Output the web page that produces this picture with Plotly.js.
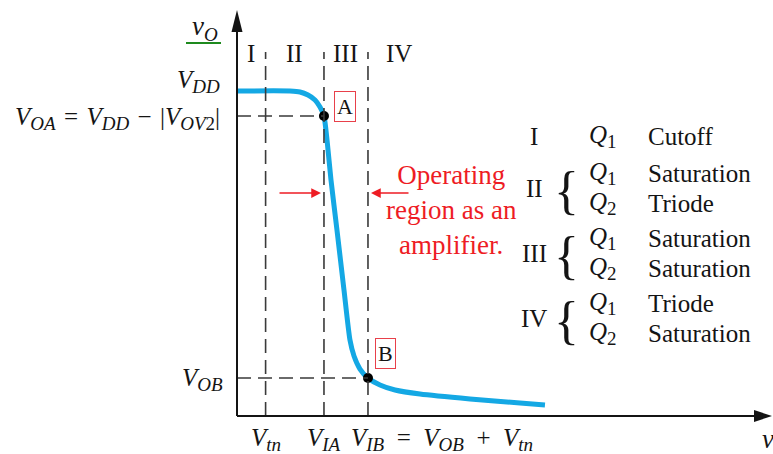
<!DOCTYPE html>
<html>
<head>
<meta charset="utf-8">
<script src="https://cdn.plot.ly/plotly-3.0.1.min.js"></script>
<style>
  html, body { margin: 0; padding: 0; background: #fff; overflow: hidden; }
  #chart { width: 773px; height: 454px; }
</style>
</head>
<body>
<div id="chart"></div>
<script>
// Voltage transfer characteristic v_O(v_I) of the CMOS common-source amplifier

// characteristic voltages (volts)
const VDD = 5.0;
const VOA = 4.615;
const VOB = 0.585;
const Vtn = 0.44;
const VIA = 1.338;
const VIB = 2.015;

// transfer curve samples
const vI = [0, 0.815, 0.969, 1.092, 1.2, 1.277, 1.338, 1.385, 1.446, 1.538, 1.646,
            1.738, 1.8, 1.892, 2.015, 2.2, 2.431, 2.815, 3.585, 4.354, 4.738];
const vO = [5.0, 5.0, 4.985, 4.938, 4.862, 4.754, 4.615, 4.246, 3.631, 2.862, 1.938,
            1.169, 0.923, 0.723, 0.585, 0.477, 0.4, 0.338, 0.262, 0.2, 0.169];

// operating points
const pointNames = ['A', 'B'];
const pointVI = [VIA, VIB];
const pointVO = [VOA, VOB];

// regions of operation
const regions = ['I', 'II', 'III', 'IV'];
const q1Mode = ['Cutoff', 'Saturation', 'Saturation', 'Triode'];
const q2Mode = [null, 'Triode', 'Saturation', 'Saturation'];

// ---- drawing scale: the page is the plotting area, origin placed inside it
const W = 773, H = 454;
const OX = 237, OY = 416;      // origin position on the page
const S = 65;                  // pixels per volt
const X = p => (p - OX) / S;   // page px -> volts
const Y = p => (OY - p) / S;

const SERIF = 'Liberation Serif, Times New Roman, serif';
const INK = '#141414';
const RED = '#ee1c24';
const BLUE = '#14a8e4';
const DASH = '14px,7px';

// math-style helpers
const sub = s => `<sub><span style="font-size:19px">${s}</span></sub>`;
const V = s => `<i>V${sub(s)}</i>`;
const op = (c, sp = '\u2002') => `${sp}${c}${sp}`;

const xTip = X(772), yTip = Y(10), dashTop = Y(52);

const shapes = [];
const dashed = { color: '#3a3a3a', width: 1.6, dash: DASH };
// vertical region boundaries
[Vtn, VIA, VIB].forEach(v => shapes.push({ type: 'line', xref: 'x', yref: 'y',
  x0: v, x1: v, y0: 0, y1: dashTop, line: dashed }));
// horizontal projections of A and B
shapes.push({ type: 'line', x0: 0, x1: VIA, y0: VOA, y1: VOA, line: dashed });
shapes.push({ type: 'line', x0: 0, x1: VIB, y0: VOB, y1: VOB, line: dashed });
// axes
shapes.push({ type: 'line', x0: 0, x1: 0, y0: 0, y1: yTip - 0.2, line: { color: INK, width: 2 } });
shapes.push({ type: 'line', x0: 0, x1: xTip - 0.2, y0: 0, y1: 0, line: { color: INK, width: 2 } });
// arrowheads
shapes.push({ type: 'path', xsizemode: 'pixel', ysizemode: 'pixel', xanchor: 0, yanchor: yTip,
  path: 'M0,0L-5.5,-22L5.5,-22Z', fillcolor: INK, line: { width: 0 } });
shapes.push({ type: 'path', xsizemode: 'pixel', ysizemode: 'pixel', xanchor: xTip, yanchor: 0,
  path: 'M0,0L-18,6L-18,-6Z', fillcolor: INK, line: { width: 0 } });
// green rule under the v_O label
shapes.push({ type: 'line', x0: X(186), x1: X(221), y0: Y(43), y1: Y(43),
  line: { color: '#1e8a1e', width: 2 } });

const ann = [];
const txt = (text, x, y, o = {}) => ann.push(Object.assign({
  text, x, y, xref: 'x', yref: 'y', showarrow: false,
  font: { family: SERIF, size: 25, color: INK }
}, o));

// axis titles
txt(`<i>v${sub('O')}</i>`, X(205), Y(28), { font: { family: SERIF, size: 27, color: INK } });
txt(`<i>v${sub('I')}</i>`, X(760), Y(441), { xanchor: 'left', font: { family: SERIF, size: 27, color: INK } });

// vertical axis marks
txt(V('DD'), 0, VDD, { xanchor: 'right', xshift: -15, yshift: 10 });
txt(V('OA') + op('=', '\u2004') + V('DD') + op('−', '\u2004') + `|<i>V</i>${sub('<i>OV</i>2')}|`, 0, VOA,
    { xanchor: 'right', xshift: -15, yshift: -2 });
txt(V('OB'), 0, VOB, { xanchor: 'right', xshift: -12, yshift: -2 });

// horizontal axis marks
txt(V('tn'), Vtn, 0, { yshift: -23 });
txt(V('IA'), VIA, 0, { yshift: -23 });
txt(V('IB') + op('=') + V('OB') + op('+') + V('tn'), VIB, 0,
    { xanchor: 'left', xshift: -19, yshift: -23 });

// region numerals above the plot
const bounds = [0, Vtn, VIA, VIB, VIB + 0.95];
regions.forEach((r, i) => txt(r, (bounds[i] + bounds[i + 1]) / 2, Y(53)));

// operating point tags
const tagOffset = [[21, 10], [18, 24]];
pointNames.forEach((n, i) => txt(n, pointVI[i], pointVO[i], {
  xshift: tagOffset[i][0], yshift: tagOffset[i][1],
  font: { family: SERIF, size: 22, color: INK },
  bordercolor: '#e8404a', borderwidth: 1, borderpad: 2, bgcolor: '#fff'
}));

// amplifier range note and arrows
txt('Operating<br>region as an<br>amplifier.', X(451), Y(210),
    { font: { family: SERIF, size: 27, color: RED } });
const arrowY = Y(193);
[[VIA, X(278)], [VIB, X(410)]].forEach(([tip, tail]) => ann.push({
  x: tip, y: arrowY, ax: tail, ay: arrowY, xref: 'x', yref: 'y', axref: 'x', ayref: 'y',
  text: '', showarrow: true, arrowhead: 2, arrowsize: 1.3, arrowwidth: 1.5,
  arrowcolor: RED, standoff: 3
}));

// table of device states per region
const rowY = [136, 188, 253, 318];
const Q = n => `<i>Q</i>${sub(n)}`;
regions.forEach((r, i) => {
  const yc = rowY[i];
  txt(r, X(534), Y(yc));
  if (q2Mode[i] === null) {
    txt(Q('1'), X(587), Y(yc), { xanchor: 'left' });
    txt(q1Mode[i], X(646), Y(yc), { xanchor: 'left' });
  } else {
    txt('{', X(566), Y(yc + 2), { font: { family: SERIF, size: 52, color: INK } });
    txt(Q('1'), X(587), Y(yc - 15), { xanchor: 'left' });
    txt(q1Mode[i], X(646), Y(yc - 15), { xanchor: 'left' });
    txt(Q('2'), X(587), Y(yc + 15), { xanchor: 'left' });
    txt(q2Mode[i], X(646), Y(yc + 15), { xanchor: 'left' });
  }
});

const traces = [
  { x: vI, y: vO, mode: 'lines', line: { color: BLUE, width: 5, shape: 'spline', smoothing: 0.6 },
    hoverinfo: 'skip' },
  { x: pointVI, y: pointVO, mode: 'markers', marker: { color: '#000', size: 10 }, hoverinfo: 'skip' }
];

const axis = { showgrid: false, zeroline: false, showticklabels: false, ticks: '', showline: false, fixedrange: true };
const layout = {
  width: W, height: H,
  margin: { l: 0, r: 0, t: 0, b: 0 },
  paper_bgcolor: '#fff', plot_bgcolor: '#fff',
  showlegend: false,
  xaxis: Object.assign({ range: [X(0), X(W)] }, axis),
  yaxis: Object.assign({ range: [Y(H), Y(0)] }, axis),
  shapes, annotations: ann
};

Plotly.newPlot('chart', traces, layout, { staticPlot: true, displayModeBar: false });
</script>
</body>
</html>
